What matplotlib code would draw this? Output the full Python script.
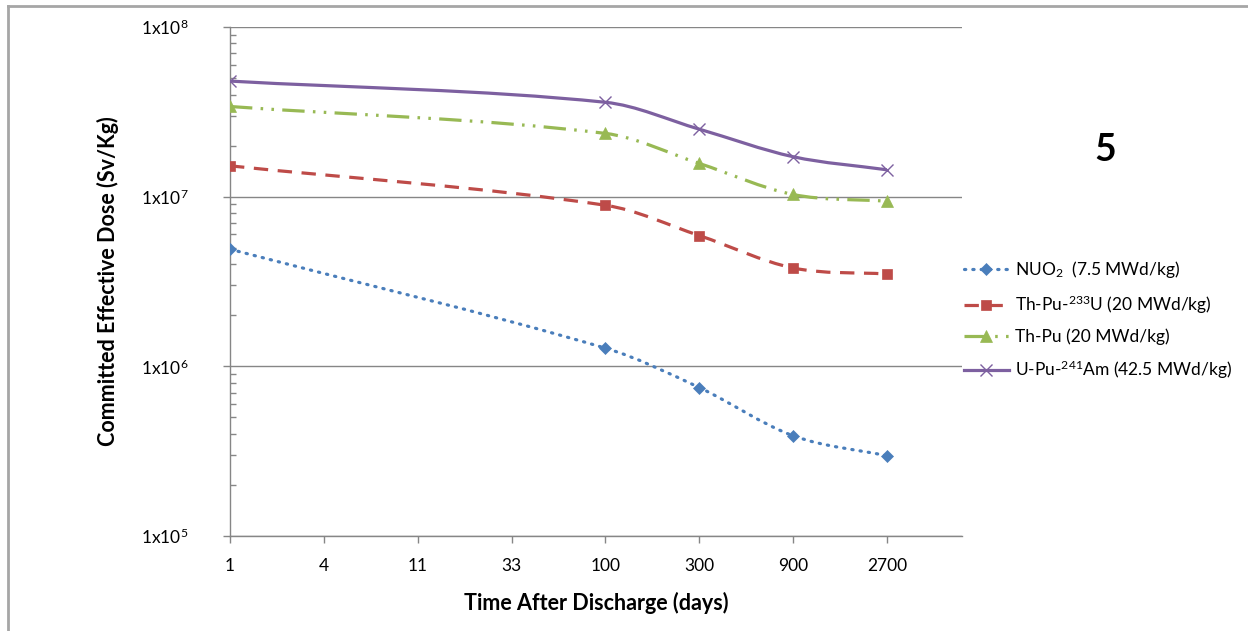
import matplotlib
matplotlib.use('Agg')
import matplotlib.pyplot as plt
import numpy as np
from matplotlib.path import Path
from matplotlib.patches import PathPatch
from matplotlib.lines import Line2D
from matplotlib.ticker import FixedLocator, LogLocator, NullFormatter

plt.rcParams['font.family'] = ['Lato', 'DejaVu Sans']
plt.rcParams['mathtext.fontset'] = 'custom'
plt.rcParams['mathtext.rm'] = 'Lato'

# category axis (evenly spaced labels)
times = ['1', '4', '11', '33', '100', '300', '900', '2700']
# days that carry data
data_times = ['1', '100', '300', '900', '2700']

nuo2 = [4.9e6, 1.28e6, 7.5e5, 3.9e5, 2.97e5]
thpu233 = [1.52e7, 8.9e6, 5.9e6, 3.8e6, 3.5e6]
thpu = [3.4e7, 2.36e7, 1.57e7, 1.03e7, 9.4e6]
upuam = [4.8e7, 3.6e7, 2.5e7, 1.72e7, 1.44e7]

labels = [r'NUO$\mathregular{_2}$  (7.5 MWd/kg)',
          r'Th-Pu-$\mathregular{^{233}}$U (20 MWd/kg)',
          'Th-Pu (20 MWd/kg)',
          r'U-Pu-$\mathregular{^{241}}$Am (42.5 MWd/kg)']
colors = ['#4A7EBB', '#BE4B48', '#98B954', '#7D60A0']
markers = ['D', 's', '^', 'x']
msizes = [6, 7.5, 8, 9]
styles = [(0, (0.4, 2.2)), (0, (4.5, 3)), (0, (7, 2.6, 0.8, 2.6, 0.8, 2.6)), '-']


def smooth_path(xs, ys):
    # smoothed line: cubic hermite/bezier through the points, in log-y space
    x = np.asarray(xs, float)
    y = np.log10(ys)
    n = len(x)
    m = np.empty(n)
    m[0] = (y[1] - y[0]) / (x[1] - x[0])
    m[-1] = (y[-1] - y[-2]) / (x[-1] - x[-2])
    m[1:-1] = (y[2:] - y[:-2]) / (x[2:] - x[:-2])
    verts = [(x[0], y[0])]
    codes = [Path.MOVETO]
    for i in range(n - 1):
        d = (x[i + 1] - x[i]) / 3.0
        verts += [(x[i] + d, y[i] + m[i] * d),
                  (x[i + 1] - d, y[i + 1] - m[i + 1] * d),
                  (x[i + 1], y[i + 1])]
        codes += [Path.CURVE4] * 3
    verts = np.array(verts)
    verts[:, 1] = 10 ** verts[:, 1]
    return Path(verts, codes)


fig = plt.figure(figsize=(12.48, 6.31), dpi=100)
ax = fig.add_axes([230 / 1248, 1 - 536 / 631, (962 - 230) / 1248, (536 - 27) / 631])

xpos = [times.index(t) for t in data_times]
series = [nuo2, thpu233, thpu, upuam]
handles = []
for vals, lab, c, m, ms, ls in zip(series, labels, colors, markers, msizes, styles):
    patch = PathPatch(smooth_path(xpos, vals), fill=False, edgecolor=c, lw=2.3,
                      linestyle=ls, capstyle='round' if m == 'D' else 'butt', zorder=3)
    ax.add_patch(patch)
    mew = 1.0 if m == 'x' else 0.5
    ax.plot(xpos, vals, linestyle='none', marker=m, ms=ms, color=c, mec=c, mew=mew, zorder=4)
    h = Line2D([], [], color=c, lw=2.3, linestyle=ls, marker=m, ms=ms, mec=c, mew=mew,
               dash_capstyle='round' if m == 'D' else 'butt')
    handles.append(h)

ax.set_yscale('log')
ax.set_ylim(1e5, 1e8)
ax.set_xlim(0, 7.8)

ax.set_xticks(range(len(times)))
ax.set_xticklabels(times)
ax.yaxis.set_major_locator(FixedLocator([1e5, 1e6, 1e7, 1e8]))
ax.set_yticklabels([r'1x10$\mathregular{^{%d}}$' % e for e in [5, 6, 7, 8]])
ax.yaxis.set_minor_locator(LogLocator(base=10, subs=np.arange(2, 10)))
ax.yaxis.set_minor_formatter(NullFormatter())

ax.tick_params(axis='y', which='major', direction='out', length=5, width=1, color='#868686',
               labelsize=12.5, pad=25)
ax.tick_params(axis='y', which='minor', direction='in', length=4, width=1, color='#868686')
ax.tick_params(axis='x', direction='out', length=5, width=1, color='#868686',
               labelsize=12.5, pad=11)
ax.grid(axis='y', which='major', color='#868686', lw=1)
ax.set_axisbelow(True)

for s in ['top', 'right']:
    ax.spines[s].set_visible(False)
for s in ['left', 'bottom']:
    ax.spines[s].set_color('#868686')
    ax.spines[s].set_linewidth(1)

ax.set_xlabel('Time After Discharge (days)', fontsize=15.5, fontweight='bold')
ax.set_ylabel('Committed Effective Dose (Sv/Kg)', fontsize=15.5, fontweight='bold')
ax.xaxis.set_label_coords(0.5, -0.11)
ax.yaxis.set_label_coords(-0.152, 0.5)

fig.legend(handles=handles, labels=labels, loc='center left',
           bbox_to_anchor=(955 / 1248, 1 - 320 / 631), frameon=False, fontsize=12.5,
           handlelength=2.6, handletextpad=0.35, labelspacing=0.75, borderpad=0)

fig.text(1105 / 1248, 1 - 150 / 631, '5', fontsize=27, fontweight='bold',
         ha='center', va='center')

# outer frame (top and left only)
fig.add_artist(Line2D([8 / 1248, 8 / 1248], [0, 1 - 6 / 631], transform=fig.transFigure,
                      color='#A6A6A6', lw=2))
fig.add_artist(Line2D([8 / 1248, 1], [1 - 6 / 631, 1 - 6 / 631], transform=fig.transFigure,
                      color='#A6A6A6', lw=2))

fig.savefig('out.png', dpi=100, facecolor='white')
